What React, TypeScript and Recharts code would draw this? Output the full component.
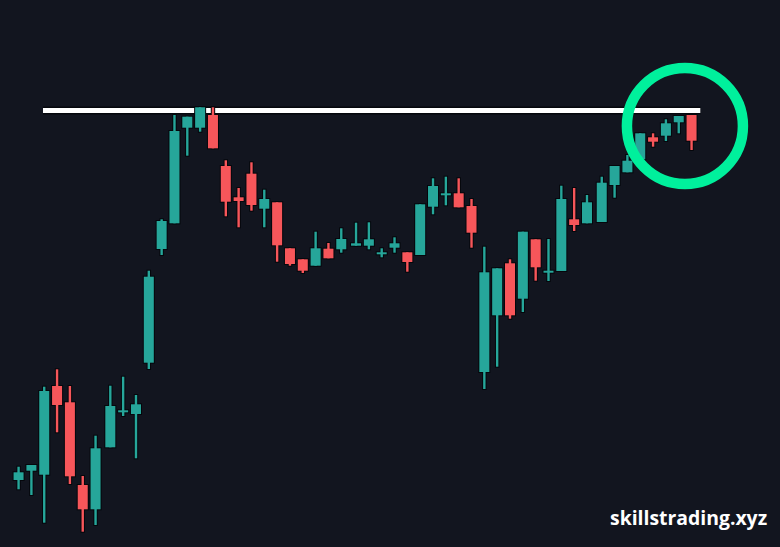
import React from "react";
import {
  Bar,
  BarChart,
  ReferenceDot,
  ReferenceLine,
  XAxis,
  YAxis,
} from "recharts";

// bar time, with the small session gaps the chart shows
const times = [
  0, 1, 2, 3, 4, 5, 6, 7.15, 8.15, 9.15, 10.15, 11.15, 12.15, 13.15, 14.15,
  15.15, 16.15, 17.15, 18.15, 19.15, 20.15, 21.15, 22.15, 23.15, 24.15, 25.15,
  26.3, 27.3, 28.3, 29.3, 30.3, 31.3, 32.3, 33.3, 34.3, 35.3, 36.3, 37.3, 38.3,
  39.3, 40.3, 41.3, 42.3, 43.3, 44.3, 45.45, 46.45, 47.45, 48.45, 49.45, 50.45,
  51.45, 52.45,
];
const opens = [
  67, 76.3, 72.3, 161, 144.7, 62, 37.7, 99.7, 134.7, 133, 184.3, 298, 323.7,
  419.3, 419.3, 432, 381, 349.7, 373.3, 338.3, 344.7, 298.7, 287.7, 281.3,
  298.3, 297.7, 301.3, 301.3, 293, 299.3, 294.7, 292, 340.3, 351.7, 353.7, 341,
  175, 231.7, 283.7, 248.3, 307.7, 274.3, 276, 327.7, 323.7, 325, 362, 374.7,
  387.7, 409.7, 411.3, 424.7, 432,
];
const highs = [
  80.3, 82, 160.3, 177.7, 161, 71, 111.3, 161.3, 170.3, 152, 276.3, 327.7, 432,
  430.3, 439.7, 439.7, 386.7, 359, 384.7, 357.3, 344.7, 298.7, 287.7, 315.3,
  304, 318.7, 324.3, 324.7, 298.7, 309.7, 294.7, 342.7, 368.7, 370.3, 368.7,
  348, 300.3, 278.7, 287.7, 315.3, 307.7, 308, 361.3, 359, 352, 370.3, 381, 392,
  413.7, 413.7, 427.7, 431, 432,
];
const lows = [
  57.7, 52, 24.3, 114.7, 63, 15.3, 22, 99.7, 131, 88.7, 178, 292, 323.7, 391.3,
  415.3, 398.7, 330.7, 319.7, 336.3, 319.7, 285.3, 281.3, 274, 281.3, 288.7,
  294.3, 301.3, 297.7, 289.7, 294.3, 275.3, 292, 332.7, 341.7, 339.7, 299.3,
  158, 180.3, 228.3, 235, 266.3, 266, 276, 316, 323.7, 325, 349.3, 374.7, 387.7,
  400.3, 406, 413.7, 397,
];
const closes = [
  74.7, 82, 156, 142, 70.7, 37.7, 98.7, 141, 136.7, 142.7, 270.3, 326, 416,
  430.3, 439.7, 398.7, 345.3, 346, 342, 348, 301.7, 283, 276.3, 298.7, 288.7,
  308, 303.7, 307.7, 294.7, 303.7, 285, 342.7, 361, 353.7, 339.7, 314.3, 274.7,
  278.7, 231.7, 315.3, 279.7, 276.3, 348, 322, 344.7, 364.3, 381, 386.3, 413.7,
  405.3, 423.7, 431, 406.3,
];
const resistance = 436.5;
const lineStart = 1.87;
const lineEnd = 53.1;
const ringTime = 51.9;
const ringPrice = 421;

const candles = times.map((t, i) => ({
  t,
  open: opens[i],
  close: closes[i],
  range: [lows[i], highs[i]],
  high: highs[i],
  low: lows[i],
}));

const UP = "#26a69a";
const DOWN = "#f7565a";
const EDGE = "#05070c";

const Candle = (props: any) => {
  const { x, y, width, height, payload } = props;
  const perUnit = height / (payload.high - payload.low);
  const cx = x + width / 2;
  const top = y + (payload.high - Math.max(payload.open, payload.close)) * perUnit;
  const bodyH = Math.max(
    Math.abs(payload.open - payload.close) * perUnit,
    2
  );
  const color = payload.close >= payload.open ? UP : DOWN;
  return (
    <g>
      <rect x={cx - 2.2} y={y - 1} width={4.4} height={height + 2} fill={EDGE} />
      <rect x={x - 1} y={top - 1} width={width + 2} height={bodyH + 2} fill={EDGE} />
      <rect x={cx - 1.2} y={y} width={2.4} height={height} fill={color} />
      <rect x={x} y={top} width={width} height={bodyH} fill={color} />
    </g>
  );
};

export default function App() {
  return (
    <div
      style={{
        position: "absolute",
        left: 0,
        top: 0,
        width: 780,
        height: 547,
        background: "#12151f",
        overflow: "hidden",
      }}
    >
      <BarChart
        width={780}
        height={547}
        data={candles}
        margin={{ top: 0, right: 0, bottom: 0, left: 0 }}
        barSize={10}
      >
        <XAxis dataKey="t" type="number" domain={[-1.48, 59.31]} hide />
        <YAxis type="number" domain={[0, 547]} hide />
        <ReferenceLine
          segment={[
            { x: lineStart, y: resistance },
            { x: lineEnd, y: resistance },
          ]}
          stroke={EDGE}
          strokeWidth={8}
          zIndex={100}
        />
        <ReferenceLine
          segment={[
            { x: lineStart, y: resistance },
            { x: lineEnd, y: resistance },
          ]}
          stroke="#ffffff"
          strokeWidth={5}
          zIndex={100}
        />
        <Bar dataKey="range" shape={<Candle />} isAnimationActive={false} />
        <ReferenceDot
          x={ringTime}
          y={ringPrice}
          r={58}
          fill="none"
          stroke="#00f09c"
          strokeWidth={10.5}
        />
      </BarChart>
      <div
        style={{
          position: "absolute",
          left: 610,
          top: 505,
          color: "#ffffff",
          fontFamily: "'Open Sans', sans-serif",
          fontWeight: 700,
          fontSize: 19.4,
          lineHeight: "26px",
          whiteSpace: "nowrap",
        }}
      >
        skillstrading.xyz
      </div>
    </div>
  );
}
